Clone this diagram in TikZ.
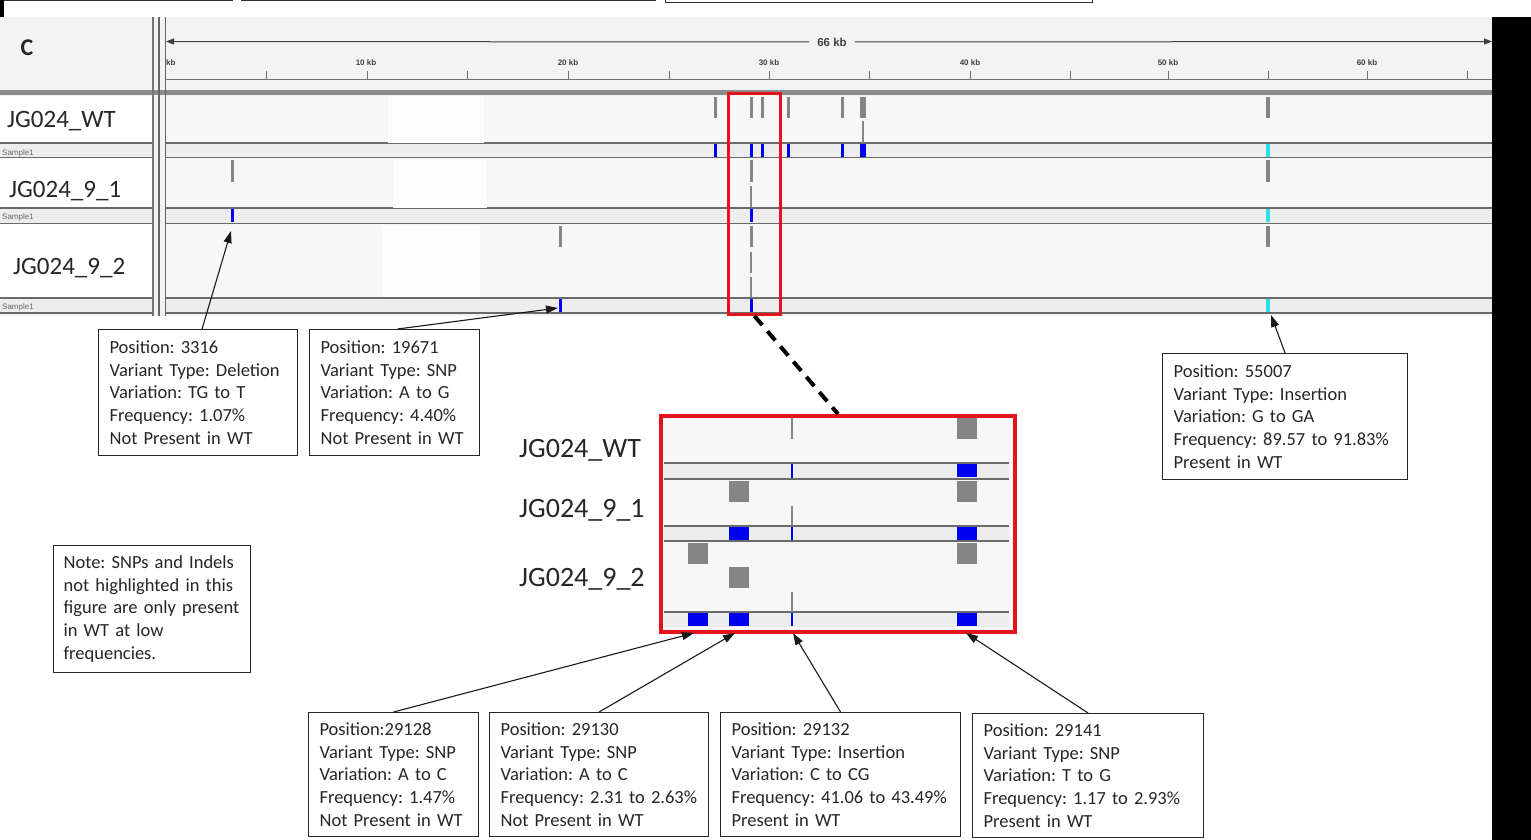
\documentclass[tikz,border=0pt]{standalone}
\usepackage{fontspec}
\setmainfont{Carlito}
\newfontfamily\igvfont{Liberation Sans}
\usetikzlibrary{arrows.meta}
\frenchspacing
\definecolor{cHead}{HTML}{F3F3F3}
\definecolor{cTrack}{HTML}{F7F7F7}
\definecolor{cRow}{HTML}{EDEDED}
\definecolor{cLine}{HTML}{6A6A6A}
\definecolor{cVar}{HTML}{858585}
\definecolor{cSnp}{HTML}{0000F0}
\definecolor{cIns}{HTML}{30DCE6}
\definecolor{cRed}{HTML}{E3141B}
\definecolor{cText}{HTML}{262626}
\tikzset{
  % info boxes under the browser
  infobox/.style={
    rectangle, draw=black!85, line width=1.1pt, fill=white,
    font=\fontsize{18.5}{22.7}\selectfont, align=left,
    anchor=north west, inner xsep=11pt, inner ysep=0pt, text=cText,
  },
  % arrows and lines
  arr/.style={-{Triangle[length=12pt,width=8pt]}, line width=1.1pt, black!90},
  zoomdash/.style={line width=4pt, dash pattern=on 12pt off 8pt, black},
  trackline/.style={cLine, line width=1.4pt},
  % marks in the tracks
  varbar/.style={cVar, line width=3pt},
  snpbar/.style={cSnp, line width=3pt},
  insbar/.style={cIns, line width=4pt},
  % labels
  trackname/.style={font=\fontsize{25}{25}\selectfont, anchor=base west, text=cText, inner sep=0pt},
  zoomname/.style={font=\fontsize{28}{28}\selectfont, anchor=base west, text=cText, inner sep=0pt},
  samplelab/.style={font=\igvfont\fontsize{8}{8}\selectfont, text=black!60, anchor=base west, inner sep=0pt},
  kblab/.style={font=\igvfont\bfseries\fontsize{8}{8}\selectfont, text=black!75, inner sep=0pt},
}

\begin{document}
\begin{tikzpicture}[x=1pt, y=-1pt]
\useasboundingbox (0,0) rectangle (1531,840);
\fill[white] (0,0) rectangle (1531,840);

% ── Top strip, cut boxes ──────────────────────────────────────────────────
\fill[black] (0,0) rectangle (4,18);
\draw[black!80, line width=1pt] (4,1) -- (232,1) -- (232,-3);
\draw[black!80, line width=1pt] (241,-3) -- (241,1) -- (655,1) -- (655,-3);
\draw[black!80, line width=1pt] (665,-3) -- (665,2.5) -- (1092,2.5) -- (1092,-3);

% ── Browser panel ─────────────────────────────────────────────────────────
\fill[cHead] (0,17) rectangle (1492,316);
\fill[black] (1492,17) rectangle (1531,840);

\foreach \top/\mid/\bot in {96/143/158, 158/208/224, 224/298/313} {
  \fill[cTrack] (166,\top) rectangle (1492,\mid);
  \fill[cRow] (166,\mid) rectangle (1492,\bot);
  \fill[white] (0,\top) rectangle (153,\mid);
  \fill[cRow] (0,\mid) rectangle (153,\bot);
  \draw[trackline] (0,\mid) -- (153,\mid) (166,\mid) -- (1492,\mid);
  \draw[trackline] (0,\bot) -- (153,\bot) (166,\bot) -- (1492,\bot);
}
\fill[white!70!cTrack] (388,96) rectangle (484,143);
\fill[white!70!cTrack] (393,160) rectangle (487,208);
\fill[white!70!cTrack] (383,225) rectangle (480,297);

% separator and dividers
\fill[black!45] (0,90) rectangle (1492,95);
\draw[black!55, line width=1.5pt] (153,17) -- (153,316);
\draw[black!60, line width=1.1pt] (159,17) -- (159,316);
\draw[black!60, line width=1.1pt] (165.5,17) -- (165.5,316);

% ruler
\node[font=\bfseries\fontsize{24}{24}\selectfont, text=cText] (panel) at (27,48) {C};
\coordinate (rulerL) at (166,41.5);
\coordinate (rulerR) at (1492,41.5);
\node[kblab, font=\igvfont\bfseries\fontsize{11.5}{11.5}\selectfont, inner xsep=8pt] (span) at (832,42) {66 kb};
\draw[black!75, line width=1pt, -{Triangle[length=8pt,width=6pt]}] (span.west) -- (rulerL);
\draw[black!75, line width=1pt, -{Triangle[length=8pt,width=6pt]}] (span.east) -- (rulerR);
\draw[black!55, line width=1pt] (166,80) -- (1492,80);
\foreach \x in {266,367,467,568,669,769,869,970,1070,1168,1268,1367,1467}
  \draw[black!55, line width=1pt] (\x,71) -- (\x,80);
\node[kblab, anchor=west] (kb0) at (166,63) {kb};
\foreach \x/\k in {366/10,568/20,769/30,970/40,1168/50,1367/60}
  \node[kblab] (kb\k) at (\x,63) {\k{} kb};

% track names
\node[trackname] (wt) at (7,128) {JG024\_WT};
\node[trackname] (t91) at (9,197) {JG024\_9\_1};
\node[trackname] (t92) at (13,274) {JG024\_9\_2};
\node[samplelab] (s1) at (2,156) {Sample1};
\node[samplelab] (s2) at (2,219) {Sample1};
\node[samplelab] (s3) at (2,309) {Sample1};

% variants, JG024_WT
\foreach \x in {715,751,762,788,842} {
  \draw[varbar] (\x,97) -- (\x,118);
  \draw[snpbar] (\x,144) -- (\x,157);
}
\draw[varbar, line width=6pt] (863,97) -- (863,118);
\draw[cVar, line width=1.5pt] (863,121) -- (863,143);
\draw[snpbar, line width=6pt] (863,144) -- (863,157);
\draw[varbar, line width=3.5pt] (1268,97) -- (1268,118);
\draw[insbar] (1268,144) -- (1268,157);

% variants, JG024_9_1
\foreach \x in {232,751} {
  \draw[varbar] (\x,160) -- (\x,182);
  \draw[snpbar] (\x,209) -- (\x,222);
}
\draw[cVar, line width=2pt] (751,186) -- (751,207);
\draw[varbar, line width=3.5pt] (1268,160) -- (1268,182);
\draw[insbar] (1268,209) -- (1268,222);

% variants, JG024_9_2
\foreach \x in {560,751} {
  \draw[varbar] (\x,226) -- (\x,247);
  \draw[snpbar] (\x,299) -- (\x,312);
}
\draw[cVar, line width=2pt] (751,252) -- (751,273) (751,277) -- (751,297);
\draw[varbar, line width=3.5pt] (1268,226) -- (1268,247);
\draw[insbar] (1268,299) -- (1268,312);

% highlighted window
\node[draw=cRed, line width=3pt, minimum width=52pt, minimum height=221pt,
  anchor=north west, inner sep=0pt] (rbox) at (727,92) {};

% ── Zoomed window ─────────────────────────────────────────────────────────
\node[draw=cRed, fill=cTrack, line width=4pt, minimum width=354pt, minimum height=216pt,
  anchor=north west, inner sep=0pt] (zbox) at (659,414) {};
\fill[cRow] (664,463) rectangle (1009,479);
\fill[cRow] (664,526) rectangle (1009,541);
\fill[cRow] (664,612) rectangle (1009,627);
\foreach \y in {463,479,526,541,612}
  \draw[trackline] (664,\y) -- (1009,\y);
\foreach \x/\y in {957/418, 729/481, 957/481, 688/543, 729/567, 957/543}
  \fill[cVar] (\x,\y) rectangle ++(20,21);
\foreach \x/\y in {957/464, 729/527, 957/527, 688/613, 729/613, 957/613}
  \fill[cSnp] (\x,\y) rectangle ++(20,13);
\draw[cVar, line width=2pt] (792,418) -- (792,439) (792,506) -- (792,526) (792,592) -- (792,612);
\draw[cSnp, line width=2pt] (792,464) -- (792,478) (792,527) -- (792,540) (792,613) -- (792,626);

\node[zoomname] (zwt) at (519,457) {JG024\_WT};
\node[zoomname] (z91) at (519,517) {JG024\_9\_1};
\node[zoomname] (z92) at (519,586) {JG024\_9\_2};

\draw[zoomdash] (rbox.south) -- (zbox.north);

% ── Variant boxes ─────────────────────────────────────────────────────────
\node[infobox, text width=177pt, minimum height=126pt] (b3316) at (98,329)
  {Position: 3316\\Variant Type: Deletion\\Variation: TG to T\\Frequency: 1.07\%\\Not Present in WT};
\node[infobox, text width=148pt, minimum height=126pt] (b19671) at (309,329)
  {Position: 19671\\Variant Type: SNP\\Variation: A to G\\Frequency: 4.40\%\\Not Present in WT};
\node[infobox, text width=223pt, minimum height=126pt] (b55007) at (1162,353)
  {Position: 55007\\Variant Type: Insertion\\Variation: G to GA\\Frequency: 89.57 to 91.83\%\\Present in WT};
\node[infobox, text width=177pt, minimum height=127pt, inner xsep=10pt] (note) at (53,545)
  {Note: SNPs and Indels\\not highlighted in this\\figure are only present\\in WT at low\\frequencies.};
\node[infobox, text width=148pt, minimum height=124pt] (b29128) at (308,712)
  {Position:29128\\Variant Type: SNP\\Variation: A to C\\Frequency: 1.47\%\\Not Present in WT};
\node[infobox, text width=197pt, minimum height=124pt] (b29130) at (489,712)
  {Position: 29130\\Variant Type: SNP\\Variation: A to C\\Frequency: 2.31 to 2.63\%\\Not Present in WT};
\node[infobox, text width=218pt, minimum height=124pt] (b29132) at (720,712)
  {Position: 29132\\Variant Type: Insertion\\Variation: C to CG\\Frequency: 41.06 to 43.49\%\\Present in WT};
\node[infobox, text width=209pt, minimum height=124pt] (b29141) at (972,713)
  {Position: 29141\\Variant Type: SNP\\Variation: T to G\\Frequency: 1.17 to 2.93\%\\Present in WT};

% arrow targets
\coordinate (m3316) at (231,231);
\coordinate (m19671) at (558,308);
\coordinate (m55007) at (1271,315);
\coordinate (t29128) at (694,633);
\coordinate (t29130) at (735,633);
\coordinate (t29132) at (793,633);
\coordinate (t29141) at (966,633);

\draw[arr] ([xshift=4pt]b3316.north) -- (m3316);
\draw[arr] ([xshift=3pt]b19671.north) -- (m19671);
\draw[arr] (b55007.north) -- (m55007);
\draw[arr] (b29128.north) -- (t29128);
\draw[arr] (b29130.north) -- (t29130);
\draw[arr] (b29132.north) -- (t29132);
\draw[arr] (b29141.north) -- (t29141);

\end{tikzpicture}
\end{document}
